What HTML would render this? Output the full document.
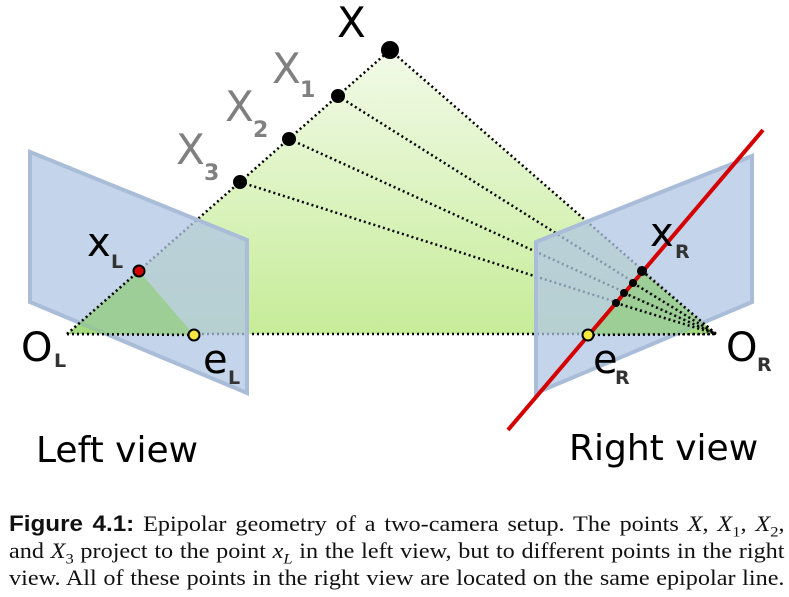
<!DOCTYPE html>
<html><head><meta charset="utf-8"><style>
body{margin:0;background:#fff;width:789px;height:597px;overflow:hidden;position:relative}
.cap{position:absolute;left:9px;top:510px;width:705px;font-family:"Liberation Serif",serif;font-size:22px;line-height:27px;color:#111;transform:scaleX(1.1);transform-origin:0 0}
.cap div{text-align:justify;text-align-last:justify;white-space:nowrap;height:27px}
.cap b{font-family:"Liberation Sans",sans-serif}
.cap sub{font-size:15px;line-height:0}
</style></head><body>
<svg width="789" height="500" style="position:absolute;left:0;top:0" font-family="DejaVu Sans, Liberation Sans, sans-serif">
<defs><linearGradient id="g" x1="0" y1="50" x2="0" y2="335" gradientUnits="userSpaceOnUse">
<stop offset="0" stop-color="#f2fae8"/><stop offset="1" stop-color="#c6ec98"/></linearGradient></defs>
<polygon points="67,334 390,50 716,334" fill="url(#g)"/>
<g stroke="#000" stroke-width="2.5" stroke-dasharray="2,3" fill="none">
<line x1="67" y1="334" x2="390" y2="50"/><line x1="390" y1="50" x2="716" y2="334"/>
<line x1="338" y1="96" x2="716" y2="334"/><line x1="289" y1="139" x2="716" y2="334"/>
<line x1="240" y1="182" x2="716" y2="334"/><line x1="67" y1="334" x2="716" y2="334"/>
</g>
<polygon points="30,152 247,240 247,393 30,302" fill="rgba(176,198,228,0.75)" stroke="#a9bdd8" stroke-width="4"/>
<polygon points="536,242 752,156 752,302 536,393" fill="rgba(176,198,228,0.75)" stroke="#a9bdd8" stroke-width="4"/>
<polygon points="67,334 139,271 194,335" fill="rgba(140,205,110,0.6)"/>
<polygon points="716,334 642,271 616,303 588,335" fill="rgba(140,205,110,0.6)"/>
<g stroke="#000" stroke-width="2.5" stroke-dasharray="2,3" fill="none">
<line x1="67" y1="334" x2="139" y2="271"/><line x1="67" y1="334" x2="194" y2="335"/>
<line x1="588" y1="335" x2="716" y2="334"/>
<line x1="642" y1="271" x2="716" y2="334"/><line x1="633" y1="283" x2="716" y2="334"/>
<line x1="624" y1="293" x2="716" y2="334"/><line x1="616" y1="303" x2="716" y2="334"/>
</g>
<line x1="508" y1="430" x2="763" y2="130" stroke="#d40000" stroke-width="4"/>
<circle cx="390" cy="50" r="9"/><circle cx="338" cy="96" r="7"/><circle cx="289" cy="139" r="7"/><circle cx="240" cy="182" r="7"/>
<circle cx="642" cy="271" r="5"/><circle cx="633" cy="283" r="4"/><circle cx="624" cy="293" r="4"/><circle cx="616" cy="303" r="4"/>
<circle cx="139" cy="271" r="5.5" fill="#d40000" stroke="#000" stroke-width="2"/>
<circle cx="194" cy="335" r="5.5" fill="#f5e642" stroke="#000" stroke-width="2"/>
<circle cx="588" cy="335" r="5.5" fill="#f5e642" stroke="#000" stroke-width="2"/>
<text x="337" y="37" font-size="42">X</text>
<g fill="#808080"><text x="272" y="83" font-size="42">X</text><text x="300" y="97" font-size="22" font-weight="bold">1</text>
<text x="225" y="121" font-size="42">X</text><text x="253" y="137" font-size="22" font-weight="bold">2</text>
<text x="176" y="164" font-size="42">X</text><text x="204" y="180" font-size="22" font-weight="bold">3</text></g>
<text x="87" y="256" font-size="40">x</text><text x="111" y="268" font-size="19" font-weight="bold" fill="#333">L</text>
<text x="21" y="361" font-size="40">O</text><text x="54" y="367" font-size="19" font-weight="bold" fill="#333">L</text>
<text x="203" y="373" font-size="40">e</text><text x="228" y="384" font-size="19" font-weight="bold" fill="#333">L</text>
<text x="650" y="246" font-size="40">x</text><text x="675" y="258" font-size="19" font-weight="bold" fill="#333">R</text>
<text x="593" y="373" font-size="40">e</text><text x="615" y="384" font-size="19" font-weight="bold" fill="#333">R</text>
<text x="726" y="361" font-size="40">O</text><text x="757" y="371" font-size="19" font-weight="bold" fill="#333">R</text>
<text x="36" y="462" font-size="36">Left view</text>
<text x="569" y="460" font-size="36">Right view</text>
</svg>
<div class="cap"><div><b>Figure 4.1:</b> Epipolar geometry of a two-camera setup. The points <i>X</i>, <i>X</i><sub>1</sub>, <i>X</i><sub>2</sub>,</div><div>and <i>X</i><sub>3</sub> project to the point <i>x<sub>L</sub></i> in the left view, but to different points in the right</div><div>view. All of these points in the right view are located on the same epipolar line.</div></div>
</body></html>
